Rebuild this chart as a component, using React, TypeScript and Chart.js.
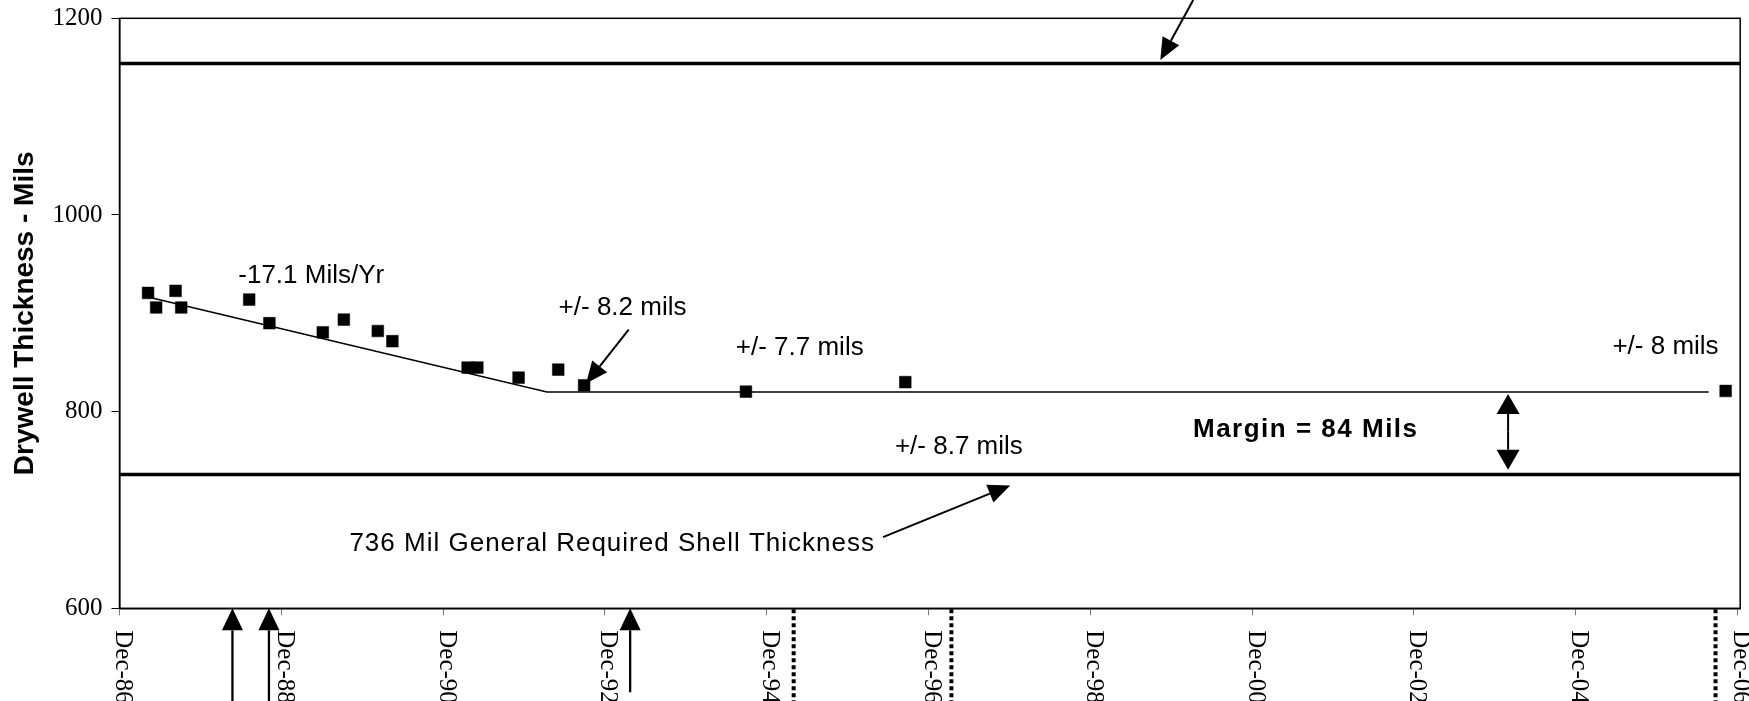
import React, { useEffect, useRef } from 'react';
import { Chart, registerables } from 'chart.js';

Chart.register(...registerables);

// ---- axes ----
const xMin = 1986.917;
const xMax = 2006.95;
const xTickYears = [1986.917, 1988.917, 1990.917, 1992.917, 1994.917, 1996.917, 1998.917, 2000.917, 2002.917, 2004.917, 2006.917];
const xTickLabels = ['Dec-86', 'Dec-88', 'Dec-90', 'Dec-92', 'Dec-94', 'Dec-96', 'Dec-98', 'Dec-00', 'Dec-02', 'Dec-04', 'Dec-06'];
const yMin = 600;
const yMax = 1200;
const yTicks = [600, 800, 1000, 1200];

// ---- measured thickness (years, mils) ----
const measureYears = [1987.27, 1987.37, 1987.61, 1987.68, 1988.52, 1988.77, 1989.43, 1989.69, 1990.11, 1990.29, 1991.22, 1991.34, 1991.85, 1992.34, 1992.66, 1994.66, 1996.63, 2006.77];
const measureMils = [920.7, 905.9, 922.8, 905.9, 914, 889.9, 880.7, 893.6, 882, 871.6, 844.8, 844.8, 834.6, 842.7, 826.8, 820.3, 830, 821];

// ---- trend ----
const trendYears = [1987.27, 1992.2, 2006.56];
const trendMils = [916.5, 820, 820];

// ---- reference lines ----
const nominalMils = 1154;
const requiredMils = 736;

// ---- annotation texts ----
const noteTexts = ['-17.1 Mils/Yr', '+/- 8.2 mils', '+/- 7.7 mils', '+/- 8 mils', '+/- 8.7 mils'];
const noteYears = [1989.287, 1993.135, 1995.325, 2006.027, 1997.292];
const noteMils = [937.8, 905.4, 864.4, 865.8, 764.7];

const shellText = '736 Mil General Required Shell Thickness';
const shellYear = 1993.007;
const shellMil = 666;

const marginText = 'Margin = 84 Mils';
const marginYear = 2001.58;
const marginMil = 782;
const marginArrowYear = 2004.081;
const marginArrowFrom = 818;
const marginArrowTo = 741;

// ---- pointer arrows (tail -> head) ----
const arrowFromYears = [1993.211, 1996.355, 2000.189];
const arrowFromMils = [883.5, 672.4, 1218.6];
const arrowToYears = [1992.684, 1997.927, 1999.782];
const arrowToMils = [828.5, 725, 1157.6];

// ---- event arrows below axis (pointing up) ----
const eventYears = [1988.313, 1988.764, 1993.229];
const eventTailMils = [505, 505, 514.6];

// ---- dotted markers below axis ----
const dottedYears = [1995.25, 1997.2, 2006.645];
const dottedBottomMil = 505;

function drawArrow(ctx: CanvasRenderingContext2D, x1: number, y1: number, x2: number, y2: number, headLen: number, headW: number, lw: number) {
  const ang = Math.atan2(y2 - y1, x2 - x1);
  const bx = x2 - headLen * Math.cos(ang);
  const by = y2 - headLen * Math.sin(ang);
  ctx.lineWidth = lw;
  ctx.beginPath();
  ctx.moveTo(x1, y1);
  ctx.lineTo(bx, by);
  ctx.stroke();
  const nx = -Math.sin(ang) * headW / 2;
  const ny = Math.cos(ang) * headW / 2;
  ctx.beginPath();
  ctx.moveTo(x2, y2);
  ctx.lineTo(bx + nx, by + ny);
  ctx.lineTo(bx - nx, by - ny);
  ctx.closePath();
  ctx.fill();
}

const annotPlugin = {
  id: 'annot',
  afterDraw(chart: any) {
    const { ctx, chartArea: a } = chart;
    const xs = chart.scales.x;
    const ys = chart.scales.y;
    const X = (v: number) => xs.getPixelForValue(v);
    const Y = (v: number) => ys.getPixelForValue(v);
    ctx.save();
    ctx.strokeStyle = '#000';
    ctx.fillStyle = '#000';

    // plot frame
    ctx.lineWidth = 1.5;
    ctx.strokeRect(a.left, a.top, a.right - a.left, a.bottom - a.top);

    // x tick labels, rotated clockwise
    ctx.font = '25px "Liberation Serif"';
    xs.ticks.forEach((t: any, i: number) => {
      const px = X(t.value);
      ctx.save();
      ctx.translate(px + 3, a.bottom + 22);
      ctx.rotate(Math.PI / 2);
      ctx.textAlign = 'left';
      ctx.textBaseline = 'middle';
      ctx.fillText(xTickLabels[i], 0, 0);
      ctx.restore();
    });

    // notes
    ctx.font = '26px "Liberation Sans"';
    ctx.textAlign = 'center';
    ctx.textBaseline = 'middle';
    noteTexts.forEach((t, i) => {
      ctx.fillText(t, X(noteYears[i]), Y(noteMils[i]));
    });
    (ctx as any).letterSpacing = '1px';
    ctx.fillText(shellText, X(shellYear), Y(shellMil));
    ctx.font = 'bold 26px "Liberation Sans"';
    (ctx as any).letterSpacing = '1.5px';
    ctx.fillText(marginText, X(marginYear), Y(marginMil));
    (ctx as any).letterSpacing = '0px';

    // pointer arrows
    arrowFromYears.forEach((_, i) => {
      drawArrow(ctx, X(arrowFromYears[i]), Y(arrowFromMils[i]), X(arrowToYears[i]), Y(arrowToMils[i]), 22, 19, 2);
    });

    // margin double arrow
    const mx = X(marginArrowYear);
    const mTop = Y(marginArrowFrom);
    const mBot = Y(marginArrowTo);
    const mid = (mTop + mBot) / 2;
    drawArrow(ctx, mx, mid, mx, mTop, 20, 23, 2);
    drawArrow(ctx, mx, mid, mx, mBot, 20, 23, 2);

    // event arrows below axis
    eventYears.forEach((yr, i) => {
      drawArrow(ctx, X(yr), Y(eventTailMils[i]), X(yr), Y(yMin), 22, 21, 2.3);
    });

    // dotted markers
    ctx.lineWidth = 4;
    ctx.setLineDash([4, 3]);
    dottedYears.forEach((yr) => {
      ctx.beginPath();
      ctx.moveTo(X(yr), Y(yMin) + 1);
      ctx.lineTo(X(yr), Y(dottedBottomMil));
      ctx.stroke();
    });
    ctx.setLineDash([]);
    ctx.restore();
  },
};

export default function App() {
  const ref = useRef<HTMLCanvasElement | null>(null);
  useEffect(() => {
    if (!ref.current) return;
    const chart = new Chart(ref.current, {
      type: 'scatter',
      data: {
        datasets: [
          {
            label: 'Nominal',
            data: [{ x: xMin, y: nominalMils }, { x: xMax, y: nominalMils }],
            showLine: true,
            borderColor: '#000',
            borderWidth: 3.5,
            pointRadius: 0,
          },
          {
            label: 'Required',
            data: [{ x: xMin, y: requiredMils }, { x: xMax, y: requiredMils }],
            showLine: true,
            borderColor: '#000',
            borderWidth: 3.5,
            pointRadius: 0,
          },
          {
            label: 'Trend',
            data: trendYears.map((x, i) => ({ x, y: trendMils[i] })),
            showLine: true,
            borderColor: '#000',
            borderWidth: 1.6,
            pointRadius: 0,
          },
          {
            label: 'Measured',
            data: measureYears.map((x, i) => ({ x, y: measureMils[i] })),
            showLine: false,
            pointStyle: 'rect',
            pointRadius: 8.3,
            backgroundColor: '#000',
            borderColor: '#000',
            borderWidth: 0.5,
          },
        ],
      },
      options: {
        animation: false,
        responsive: false,
        layout: { padding: { top: 18.3, right: 4.5, left: 0, bottom: 0 } },
        plugins: { legend: { display: false }, tooltip: { enabled: false } },
        scales: {
          x: {
            type: 'linear',
            min: xMin,
            max: xMax,
            afterBuildTicks: (s: any) => {
              s.ticks = xTickYears.map((v) => ({ value: v }));
            },
            ticks: { display: false },
            grid: { drawOnChartArea: false, drawTicks: true, tickLength: 7, color: '#777' },
            border: { display: true, color: '#000', width: 1.5 },
            afterFit: (s: any) => {
              s.height = 92.7;
            },
          },
          y: {
            type: 'linear',
            min: yMin,
            max: yMax,
            afterBuildTicks: (s: any) => {
              s.ticks = yTicks.map((v) => ({ value: v }));
            },
            ticks: {
              callback: (v: any) => String(v),
              font: { family: 'Liberation Serif', size: 25, lineHeight: 0.7 },
              color: '#000',
              padding: 9,
            },
            grid: { drawOnChartArea: false, drawTicks: true, tickLength: 8, color: '#000' },
            border: { display: true, color: '#000', width: 1.5 },
            title: {
              display: true,
              text: 'Drywell Thickness - Mils',
              font: { family: 'Liberation Sans', size: 28, weight: 'bold' },
              color: '#000',
              padding: { top: 8, bottom: 0 },
            },
            afterFit: (s: any) => {
              s.width = 119.5;
            },
          },
        },
      } as any,
      plugins: [annotPlugin],
    });
    return () => chart.destroy();
  }, []);

  return (
    <div style={{ position: 'fixed', left: 0, top: 0, width: 1749, height: 701, background: '#fff' }}>
      <canvas ref={ref} width={1749} height={701} style={{ width: 1749, height: 701, display: 'block' }} />
    </div>
  );
}
